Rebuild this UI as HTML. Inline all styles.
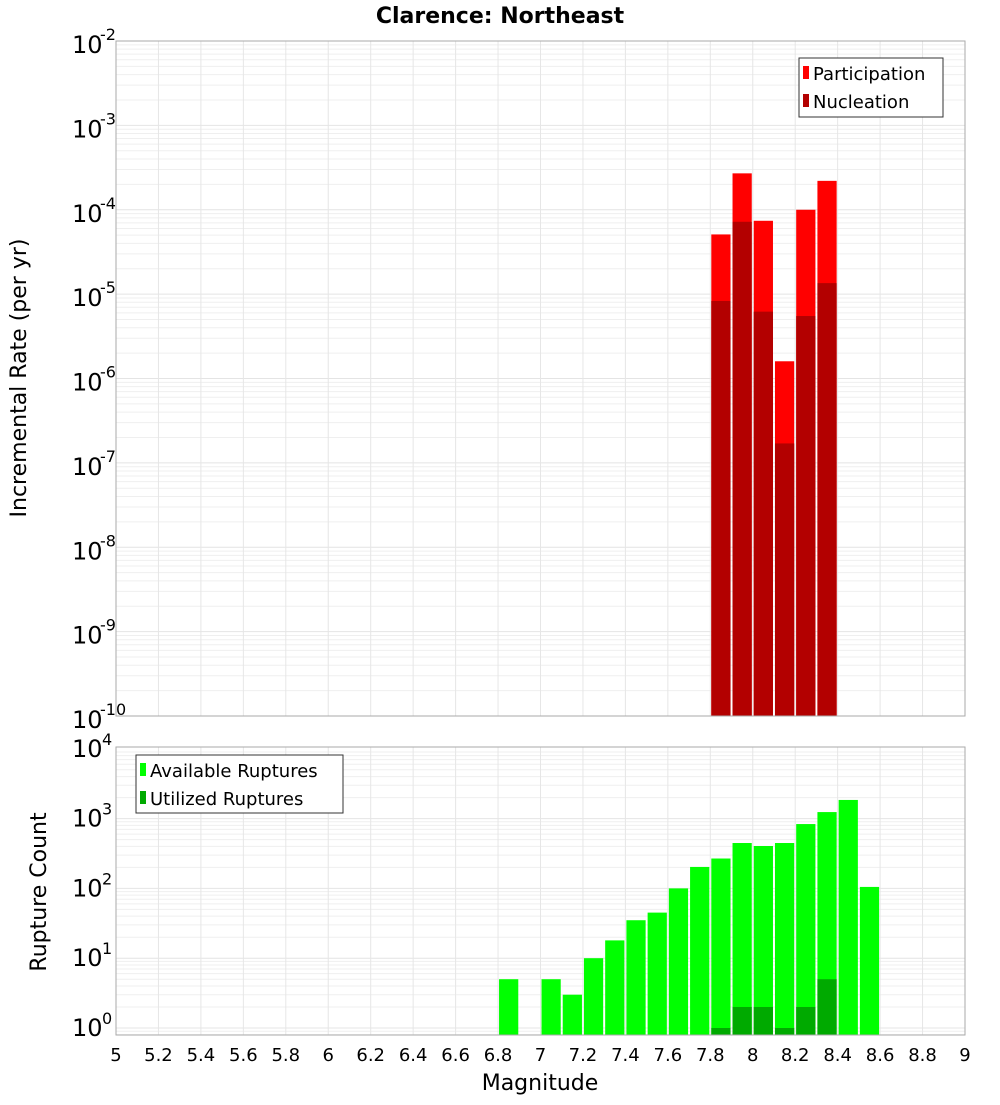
<!DOCTYPE html>
<html><head><meta charset="utf-8"><style>
body{margin:0;background:#fff;font-family:"Liberation Sans","DejaVu Sans",sans-serif}
svg text{font-family:"DejaVu Sans","Liberation Sans",sans-serif}
</style></head><body>
<svg id="c" width="1000" height="1100" xmlns="http://www.w3.org/2000/svg"></svg>
<script>
const magnitudes=[7.85,7.95,8.05,8.15,8.25,8.35];
const participation=[5.1e-5,2.7e-4,7.4e-5,1.6e-6,1.0e-4,2.2e-4];
const nucleation=[8.3e-6,7.2e-5,6.2e-6,1.7e-7,5.5e-6,1.35e-5];
const availMags=[6.85,7.05,7.15,7.25,7.35,7.45,7.55,7.65,7.75,7.85,7.95,8.05,8.15,8.25,8.35,8.45,8.55];
const available=[5,5,3,10,18,35,45,100,203,268,447,405,447,835,1240,1850,105];
const utilMags=[7.85,7.95,8.05,8.15,8.25,8.35];
const utilized=[1,2,2,1,2,5];
const xTicks=[5,5.2,5.4,5.6,5.8,6,6.2,6.4,6.6,6.8,7,7.2,7.4,7.6,7.8,8,8.2,8.4,8.6,8.8,9];
const topExps=[-2,-3,-4,-5,-6,-7,-8,-9,-10];
const botExps=[4,3,2,1,0];

const svg=document.getElementById('c');const NS='http://www.w3.org/2000/svg';
function mk(t,a,p){const e=document.createElementNS(NS,t);for(const k in a)e.setAttribute(k,a[k]);(p||svg).appendChild(e);return e;}
const L=116,R=965;
const X=m=>L+(m-5)/4*(R-L);
const T0=41,T1=716;const yTop=v=>T0+(-2-Math.log10(v))*(T1-T0)/8;
const B0=747,B1=1035;const yBot=v=>1028-Math.log10(v)*69.8;

function grid(g,y0,y1,yfn,lo,hi){
  for(let e=lo;e<hi;e++)for(let k=1;k<10;k++){const y=yfn(k*Math.pow(10,e));if(y<y0-0.5||y>y1+0.5)continue;
    mk('line',{x1:L,x2:R,y1:y,y2:y,stroke:k==1?'#e4e4e4':'#efefef','stroke-width':1},g);}
  xTicks.forEach(m=>mk('line',{x1:X(m),x2:X(m),y1:y0,y2:y1,stroke:'#e6e6e6','stroke-width':1},g));
}
// top plot
let g=mk('g',{});
grid(g,T0,T1,yTop,-10,-2);
let t=mk('text',{x:500,y:23,'text-anchor':'middle','font-size':22,'font-weight':'bold'});t.textContent='Clarence: Northeast';

magnitudes.forEach((m,i)=>{
  let r=mk('rect',{x:X(m-0.05)+1,y:yTop(participation[i]),width:X(0.1+5)-L-2,height:T1-yTop(participation[i]),fill:'#ff0000'});
  
  r=mk('rect',{x:X(m-0.05)+1,y:yTop(nucleation[i]),width:X(0.1+5)-L-2,height:T1-yTop(nucleation[i]),fill:'#b30000'});
  
});
mk('rect',{x:L,y:T0,width:R-L,height:T1-T0,fill:'none',stroke:'#aaa'});
topExps.forEach(e=>{const y=yTop(Math.pow(10,e));
  let tx=mk('text',{x:72,y:y+12,'font-size':24});tx.textContent='10';
  let s=mk('text',{x:100,y:y-1,'font-size':16});s.textContent=String(e);});
t=mk('text',{x:26,y:378,'text-anchor':'middle','font-size':22,transform:'rotate(-90 26 378)'});t.textContent='Incremental Rate (per yr)';

// top legend
g=mk('g',{});
mk('rect',{x:799,y:58,width:144,height:59,fill:'#fff',stroke:'#333'},g);
mk('rect',{x:803,y:66,width:6,height:13,fill:'#ff0000'},g);
mk('rect',{x:803,y:94,width:6,height:13,fill:'#b30000'},g);
t=mk('text',{x:813,y:80,'font-size':18},g);t.textContent='Participation';
t=mk('text',{x:813,y:108,'font-size':18},g);t.textContent='Nucleation';
// bottom plot
g=mk('g',{});
grid(g,B0,B1,yBot,-1,4);
availMags.forEach((m,i)=>{
  let r=mk('rect',{x:X(m-0.05)+1,y:yBot(available[i]),width:X(5.1)-L-2,height:B1-yBot(available[i]),fill:'#00ff00'});
  });
utilMags.forEach((m,i)=>{
  let r=mk('rect',{x:X(m-0.05)+1,y:yBot(utilized[i]),width:X(5.1)-L-2,height:B1-yBot(utilized[i]),fill:'#00aa00'});
  });
mk('rect',{x:L,y:B0,width:R-L,height:B1-B0,fill:'none',stroke:'#aaa'});
botExps.forEach(e=>{const y=yBot(Math.pow(10,e));
  let tx=mk('text',{x:72,y:y+8,'font-size':24});tx.textContent='10';
  let s=mk('text',{x:102,y:y-4,'font-size':16});s.textContent=String(e);});
xTicks.forEach(m=>{let tx=mk('text',{x:X(m),y:1061,'text-anchor':'middle','font-size':18});tx.textContent=String(m);
  });
t=mk('text',{x:540,y:1090,'text-anchor':'middle','font-size':22});t.textContent='Magnitude';

t=mk('text',{x:46,y:892,'text-anchor':'middle','font-size':22,transform:'rotate(-90 46 892)'});t.textContent='Rupture Count';

g=mk('g',{});
mk('rect',{x:136,y:755,width:207,height:58,fill:'#fff',stroke:'#333'},g);
mk('rect',{x:140,y:763,width:6,height:13,fill:'#00ff00'},g);
mk('rect',{x:140,y:791,width:6,height:13,fill:'#00aa00'},g);
t=mk('text',{x:150,y:777,'font-size':18},g);t.textContent='Available Ruptures';
t=mk('text',{x:150,y:805,'font-size':18},g);t.textContent='Utilized Ruptures';
</script>
</body></html>
